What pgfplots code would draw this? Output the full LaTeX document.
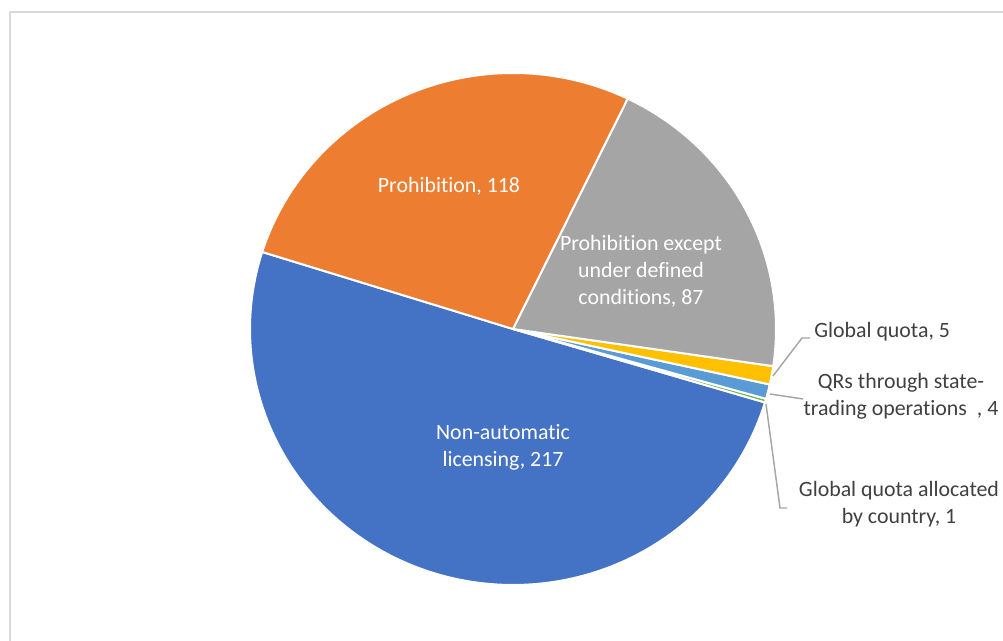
\documentclass[border=0pt]{standalone}
\usepackage{pgfplots}
\pgfplotsset{compat=1.18}
\usepackage{fontspec}
\setmainfont[Ligatures={NoCommon}]{Carlito}
\definecolor{cblue}{HTML}{4472C4}
\definecolor{corange}{HTML}{ED7D31}
\definecolor{cgray}{HTML}{A5A5A5}
\definecolor{cyellow}{HTML}{FFC000}
\definecolor{clblue}{HTML}{5B9BD5}
\definecolor{cgreen}{HTML}{70AD47}
\definecolor{leader}{HTML}{A6A6A6}
\definecolor{labtext}{HTML}{404040}
\definecolor{frame}{HTML}{D9D9D9}
% values: Non-automatic licensing 217, Global quota allocated by country 1,
% QRs through state-trading 4, Global quota 5, Prohibition except 87, Prohibition 118
\def\total{432}
\pgfmathsetmacro\aA{162.5}
\pgfmathsetmacro\aB{\aA+217/\total*360}
\pgfmathsetmacro\aC{\aB+1/\total*360}
\pgfmathsetmacro\aD{\aC+4/\total*360}
\pgfmathsetmacro\aE{\aD+5/\total*360}
\pgfmathsetmacro\aF{\aE+87/\total*360}
\pgfmathsetmacro\aG{\aF+118/\total*360}
\begin{document}
\begin{tikzpicture}
\begin{axis}[at={(0,0)}, anchor=south west, scale only axis,
  width=752.25pt, height=480.75pt, xmin=0, xmax=1003, ymin=0, ymax=641,
  hide axis, clip=false]
\draw[frame, line width=1.3pt] (axis cs:1030,-20) -- (axis cs:10,-20) -- (axis cs:10,629) -- (axis cs:1030,629);
\addplot[fill=cblue, draw=white, line width=1.5pt, line join=round, domain=\aA:\aB, samples=200, variable=\t] ({513+263*cos(\t)},{312+256*sin(\t)}) -- (axis cs:513,312) -- cycle;
\addplot[fill=cgreen, draw=white, line width=1.5pt, line join=round, domain=\aB:\aC, samples=10, variable=\t] ({513+263*cos(\t)},{312+256*sin(\t)}) -- (axis cs:513,312) -- cycle;
\addplot[fill=clblue, draw=white, line width=1.5pt, line join=round, domain=\aC:\aD, samples=10, variable=\t] ({513+263*cos(\t)},{312+256*sin(\t)}) -- (axis cs:513,312) -- cycle;
\addplot[fill=cyellow, draw=white, line width=1.5pt, line join=round, domain=\aD:\aE, samples=10, variable=\t] ({513+263*cos(\t)},{312+256*sin(\t)}) -- (axis cs:513,312) -- cycle;
\addplot[fill=cgray, draw=white, line width=1.5pt, line join=round, domain=\aE:\aF, samples=100, variable=\t] ({513+263*cos(\t)},{312+256*sin(\t)}) -- (axis cs:513,312) -- cycle;
\addplot[fill=corange, draw=white, line width=1.5pt, line join=round, domain=\aF:\aG, samples=120, variable=\t] ({513+263*cos(\t)},{312+256*sin(\t)}) -- (axis cs:513,312) -- cycle;
% leader lines
\addplot[leader, line width=1.1pt] coordinates {(773,265) (802,303) (810,303)};
\addplot[leader, line width=1.1pt] coordinates {(770,247) (803,242)};
\addplot[leader, line width=1.1pt] coordinates {(766,237) (780,133) (787,133)};
% labels
\tikzset{lab/.style={align=center, font=\fontsize{16.4}{20.3}\selectfont, inner sep=0pt}}
\node[lab, text=white] at (axis cs:449,455) {Prohibition, 118};
\node[lab, text=white] at (axis cs:641,370) {Prohibition except\\under defined\\conditions, 87};
\node[lab, text=white] at (axis cs:503,194) {Non-automatic\\licensing, 217};
\node[lab, text=labtext, anchor=west] at (axis cs:814,309) {Global quota, 5};
\node[lab, text=labtext] at (axis cs:901,245) {QRs through state-\\trading operations\ \ , 4};
\node[lab, text=labtext] at (axis cs:899,137) {Global quota allocated\\by country, 1};
\end{axis}
\pgfresetboundingbox
\useasboundingbox (0,0) rectangle (752.25pt,480.75pt);
\end{tikzpicture}
\end{document}
